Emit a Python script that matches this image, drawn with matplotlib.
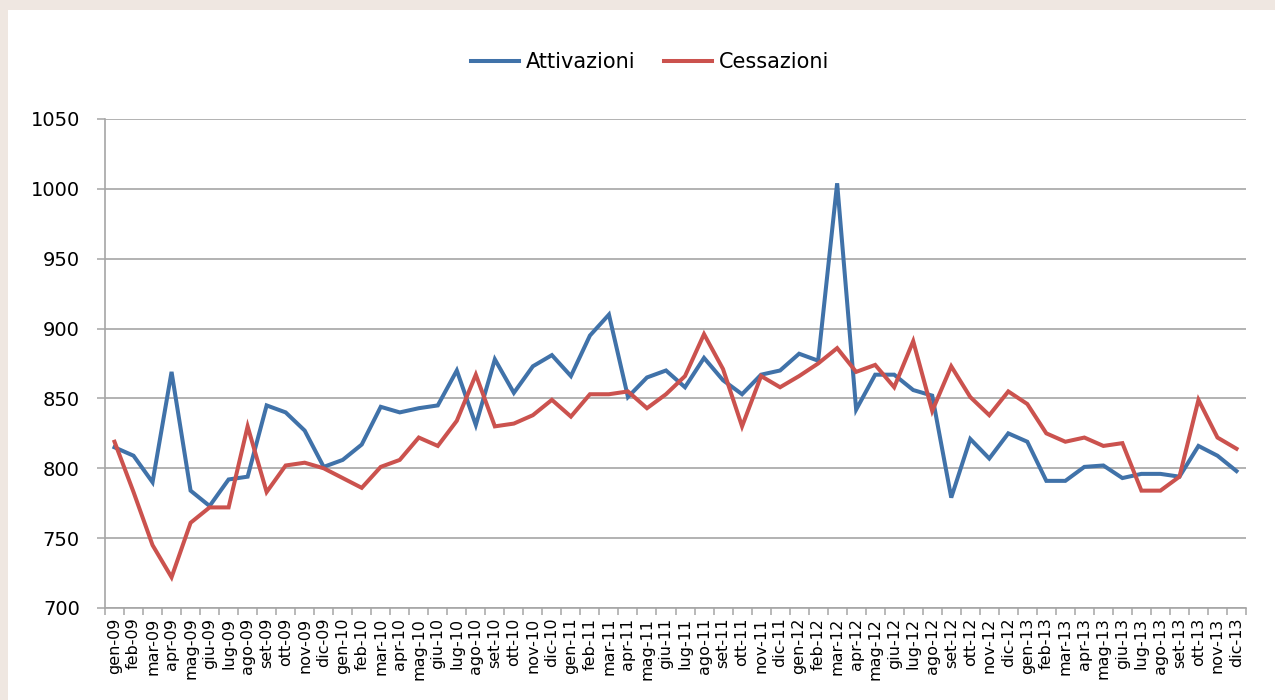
import numpy as np
import matplotlib.pyplot as plt
from matplotlib.patches import Rectangle

mesi = ['gen', 'feb', 'mar', 'apr', 'mag', 'giu', 'lug', 'ago', 'set', 'ott', 'nov', 'dic']
anni = ['09', '10', '11', '12', '13']
etichette = [m + '-' + a for a in anni for m in mesi]

attivazioni = [815, 809, 790, 869, 784, 773, 792, 794, 845, 840, 827, 801,
               806, 817, 844, 840, 843, 845, 870, 831, 878, 854, 873, 881,
               866, 895, 910, 851, 865, 870, 858, 879, 863, 853, 867, 870,
               882, 877, 1004, 842, 867, 867, 856, 852, 779, 821, 807, 825,
               819, 791, 791, 801, 802, 793, 796, 796, 794, 816, 809, 798]

cessazioni = [819, 783, 745, 722, 761, 772, 772, 830, 783, 802, 804, 800,
              793, 786, 801, 806, 822, 816, 834, 867, 830, 832, 838, 849,
              837, 853, 853, 855, 843, 853, 866, 896, 871, 830, 866, 858,
              866, 875, 886, 869, 874, 858, 891, 841, 873, 851, 838, 855,
              846, 825, 819, 822, 816, 818, 784, 784, 794, 849, 822, 814]

blu = '#4072A9'
rosso = '#CB524E'
grigio = '#A6A6A6'

fig = plt.figure(figsize=(12.75, 7), dpi=100)
fig.patch.set_facecolor('#EFE7E1')
# pannello bianco
fig.patches.append(Rectangle((8 / 1275, 0), 1, 1 - 10 / 700, transform=fig.transFigure,
                             facecolor='white', edgecolor='none', zorder=-10))

ax = fig.add_axes([105 / 1275, 1 - 608 / 700, (1246 - 105) / 1275, (608 - 119) / 700])
ax.set_facecolor('white')

x = np.arange(len(etichette))
ax.plot(x, attivazioni, color=blu, lw=2.9, label='Attivazioni', solid_joinstyle='miter')
ax.plot(x, cessazioni, color=rosso, lw=2.9, label='Cessazioni', solid_joinstyle='miter')

ax.set_xlim(-0.5, len(etichette) - 0.5)
ax.set_ylim(700, 1050)
ax.set_yticks(np.arange(700, 1051, 50))
ax.yaxis.grid(True, color=grigio, lw=1.2)
ax.set_axisbelow(True)

ax.set_xticks(x)
ax.set_xticklabels(etichette, rotation=90, fontsize=11.5)
ax.set_xticks(np.arange(-0.5, len(etichette)), minor=True)
ax.tick_params(axis='x', which='major', length=0, pad=7)
ax.tick_params(axis='x', which='minor', length=5, color=grigio, width=1.1, direction='out')
ax.tick_params(axis='y', length=6, color=grigio, width=1.1, pad=12, labelsize=14)

for s in ['top', 'right']:
    ax.spines[s].set_visible(False)
for s in ['left', 'bottom']:
    ax.spines[s].set_color(grigio)
    ax.spines[s].set_linewidth(1.2)

fig.legend(loc='center', bbox_to_anchor=(650 / 1275, 1 - 62 / 700), ncol=2, frameon=False,
           fontsize=15, handlelength=2.3, handletextpad=0.3, columnspacing=1.4)

fig.savefig('out.png', dpi=100, facecolor=fig.get_facecolor())
